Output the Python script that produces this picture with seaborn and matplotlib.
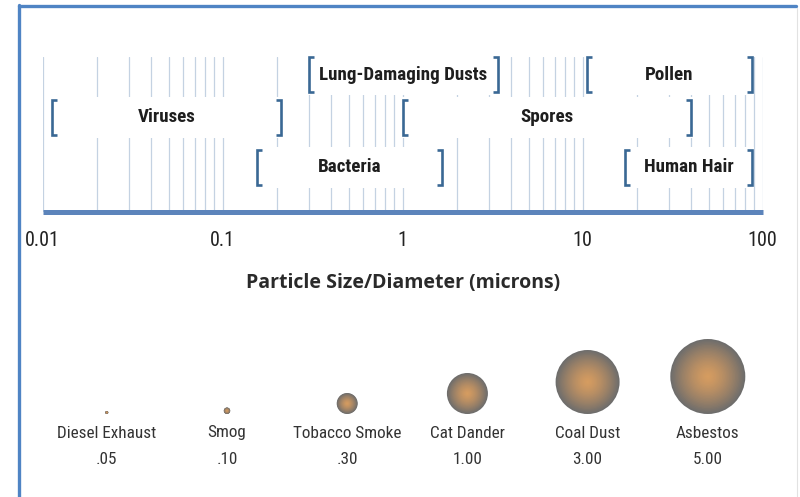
import os
import numpy as np
import pandas as pd
import matplotlib
matplotlib.use("Agg")
import matplotlib.pyplot as plt
import seaborn as sns
from matplotlib.lines import Line2D
from matplotlib.ticker import LogLocator, FixedLocator, NullFormatter
from matplotlib import font_manager as fm
import matplotlib.colors as mcolors

# ---------------- data ----------------
range_names = ["Lung-Damaging Dusts", "Pollen", "Viruses", "Spores", "Bacteria", "Human Hair"]
range_low = [0.30, 10.5, 0.0113, 1.0, 0.155, 17.2]
range_high = [3.4, 87.0, 0.21, 40.0, 1.65, 87.0]
range_row = [0, 0, 1, 1, 2, 2]

tick_values = [0.01, 0.1, 1, 10, 100]
tick_labels = ["0.01", "0.1", "1", "10", "100"]

particle_names = ["Diesel Exhaust", "Smog", "Tobacco Smoke", "Cat Dander", "Coal Dust", "Asbestos"]
particle_sizes = [0.05, 0.10, 0.30, 1.00, 3.00, 5.00]
particle_labels = [".05", ".10", ".30", "1.00", "3.00", "5.00"]

# ---------------- fonts ----------------
sns.set_theme(style="white")
STRETCH = {'ultra-condensed': 50, 'extra-condensed': 62.5, 'condensed': 75,
           'semi-condensed': 87.5, 'normal': 100, 'medium': 100, 'semi-expanded': 112.5,
           'expanded': 125, 'extra-expanded': 150, 'ultra-expanded': 200}
WEIGHT = {'ultralight': 100, 'light': 300, 'normal': 400, 'regular': 400, 'book': 400,
          'medium': 500, 'roman': 400, 'semibold': 600, 'demibold': 600, 'demi': 600,
          'bold': 700, 'heavy': 800, 'extra bold': 800, 'black': 900}


def width_of(e):
    s = e.stretch
    v = STRETCH.get(s, 100) if isinstance(s, str) else float(s)
    fn = os.path.basename(e.fname).lower()
    if 'semicond' in fn:
        v = min(v, 87.5)
    elif 'cond' in fn or 'narrow' in fn:
        v = min(v, 75)
    return v


def wnum(e):
    fn = os.path.basename(e.fname).lower()
    w = e.weight
    w = WEIGHT.get(w, 400) if isinstance(w, str) else int(w)
    if 'semibold' in fn:
        w = 600
    elif 'extrabold' in fn:
        w = 800
    elif 'bold' in fn:
        w = 700
    elif 'light' in fn:
        w = 300
    elif 'medium' in fn:
        w = 500
    elif 'black' in fn:
        w = 900
    elif 'thin' in fn:
        w = 100
    return w


def pick(fams, weight, width, size):
    best, best_s = None, 1e9
    for rank, fam in enumerate(fams):
        for e in fm.fontManager.ttflist:
            if e.name != fam or e.style != 'normal':
                continue
            fn = os.path.basename(e.fname).lower()
            if 'italic' in fn:
                continue
            s = abs(width_of(e) - width) * 4 + abs(wnum(e) - weight) + rank * 30
            if s < best_s:
                best, best_s = e, s
    if best is None:
        return fm.FontProperties(family='DejaVu Sans', weight=weight, size=size)
    return fm.FontProperties(fname=best.fname, size=size)


COND_FAMS = ["Liberation Sans Narrow", "Roboto Condensed", "Open Sans Condensed",
             "Open Sans", "DejaVu Sans Condensed", "DejaVu Sans", "Roboto"]
fp_range = pick(COND_FAMS, 700, 75, 13.7)
fp_tick = pick(COND_FAMS, 400, 75, 14.5)
fp_part = pick(COND_FAMS, 400, 75, 12.3)
fp_title = pick(["Open Sans", "Lato", "DejaVu Sans"], 700, 100, 14)

W, H = 800, 497


def fx(px):
    return px / W


def fy(py):
    return 1 - py / H


fig = plt.figure(figsize=(8, 4.97), dpi=100)
fig.patch.set_facecolor("white")

# frame lines (left + top)
fig.add_artist(Line2D([fx(19), fx(19)], [fy(5), 0], lw=2.4, color="#4f84c4"))
fig.add_artist(Line2D([fx(19), fx(796)], [fy(6), fy(6)], lw=2.4, color="#4f84c4"))
fig.add_artist(Line2D([fx(797), fx(797)], [fy(8), 0], lw=0.8, color="#e2e2e2"))

# ---------------- top scale axes ----------------
ax = fig.add_axes([fx(42.7), fy(212), 720 / W, 155 / H])
ax.set_xscale("log")
ax.set_xlim(0.01, 100)
ax.set_ylim(0, 155)
for s in ax.spines.values():
    s.set_visible(False)
ax.set_facecolor("none")
ax.xaxis.set_major_locator(FixedLocator(tick_values))
ax.xaxis.set_minor_locator(LogLocator(base=10, subs=np.arange(2, 10), numticks=20))
ax.xaxis.set_minor_formatter(NullFormatter())
ax.set_xticklabels(tick_labels)
ax.tick_params(axis="x", which="both", length=0, pad=14, labelcolor="#222222")
for lab in ax.get_xticklabels():
    lab.set_fontproperties(fp_tick)
ax.set_yticks([])
ax.grid(which="both", axis="x", color="#c4d2e2", lw=0.9, zorder=0)
ax.set_axisbelow(True)

# baseline
ax.axhline(0, color="#5c84bb", lw=3.6, clip_on=False, zorder=4, solid_capstyle="butt")

row_y = {0: (120, 155), 1: (77, 112), 2: (27, 62)}
arm = 10 ** (5 / 180)
pad = 10 ** (2 / 180)
for name, lo, hi, r in zip(range_names, range_low, range_high, range_row):
    y0, y1 = row_y[r]
    ax.axvspan(lo / pad, hi * pad, ymin=(y0 - 3) / 155, ymax=min(y1 + 3, 155) / 155,
               color="white", lw=0, zorder=2)
    ax.plot([lo * arm, lo, lo, lo * arm], [y0, y0, y1, y1], color="#3a6894", lw=1.9,
            solid_joinstyle="miter", solid_capstyle="butt", zorder=3, clip_on=False)
    ax.plot([hi / arm, hi, hi, hi / arm], [y0, y0, y1, y1], color="#3a6894", lw=1.9,
            solid_joinstyle="miter", solid_capstyle="butt", zorder=3, clip_on=False)
    ax.text(np.sqrt(lo * hi), (y0 + y1) / 2, name, ha="center", va="center",
            fontproperties=fp_range, color="#1e1e1e", zorder=5)

fig.text(fx(403), fy(283), "Particle Size/Diameter (microns)", ha="center", va="center",
         fontproperties=fp_title, color="#2a2a2a")

# ---------------- particle circles ----------------
step = 120.2
x0 = 106.8
bx = fig.add_axes([fx(x0 - step / 2), fy(480), 6 * step / W, 160 / H])

dot_diam_px = {0.05: 3.0, 0.10: 6.5, 0.30: 21.0, 1.00: 41.0, 3.00: 64.0, 5.00: 75.0}
base_y = 480 - 414

df = pd.DataFrame({"name": particle_names, "size": particle_sizes})
df["diam"] = df["size"].map(dot_diam_px)
df["yc"] = base_y + df["diam"] / 2

edge = np.array(mcolors.to_rgb("#6e6d6c"))
center = np.array(mcolors.to_rgb("#d69c60"))
N = 26
for k in range(N):
    frac = 1 - k / N
    w = frac ** 1.4
    col = w * edge + (1 - w) * center
    sizes = {v: (0.72 * d * frac) ** 2 for v, d in dot_diam_px.items()}
    sns.scatterplot(data=df, x="name", y="yc", size="size", sizes=sizes,
                    color=col, linewidth=0, edgecolor="none", legend=False, ax=bx, zorder=3)
bx.set_xlim(-0.5, 5.5)
bx.set_ylim(0, 160)
bx.axis("off")

for i, (nm, lab) in enumerate(zip(particle_names, particle_labels)):
    bx.text(i, 480 - 433, nm, ha="center", va="center", fontproperties=fp_part, color="#333333")
    bx.text(i, 480 - 460, lab, ha="center", va="center", fontproperties=fp_part, color="#333333")

fig.savefig("out.png", dpi=100)
